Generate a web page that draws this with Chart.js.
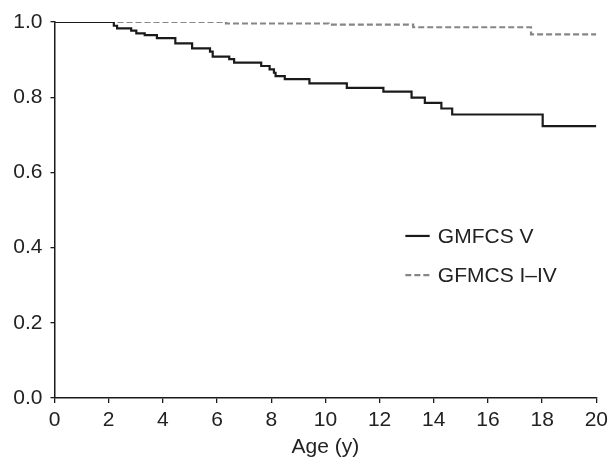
<!DOCTYPE html>
<html>
<head>
<meta charset="utf-8">
<script src="https://cdn.jsdelivr.net/npm/chart.js@4/dist/chart.umd.min.js"></script>
<style>
  html, body { margin: 0; padding: 0; background: #fff; }
  #wrap { width: 613px; height: 460px; }
</style>
</head>
<body>
<div id="wrap"><canvas id="kmChart"></canvas></div>
<script>
"use strict";

// survival curves (Kaplan-Meier steps): age of each drop and survival after it
var gmfcs5Age  = [0, 2.19, 2.31, 2.83, 3.02, 3.33, 3.78, 4.46, 5.08, 5.74, 5.84, 6.45, 6.63, 7.63, 7.94, 8.10, 8.16, 8.50, 9.41, 10.79, 12.14, 13.18, 13.67, 14.28, 14.68, 18.02, 20];
var gmfcs5Surv = [1.0, 0.990, 0.983, 0.977, 0.970, 0.965, 0.957, 0.943, 0.930, 0.921, 0.908, 0.901, 0.892, 0.883, 0.874, 0.865, 0.856, 0.848, 0.837, 0.825, 0.815, 0.799, 0.785, 0.770, 0.754, 0.723, 0.723];

var gmfcs14Age  = [0, 6.33, 10.12, 13.24, 17.59, 20];
var gmfcs14Surv = [1.0, 0.996, 0.993, 0.986, 0.967, 0.967];

var xTicks = [0, 2, 4, 6, 8, 10, 12, 14, 16, 18, 20];
var yTicks = [0.0, 0.2, 0.4, 0.6, 0.8, 1.0];

var legendLabels = ["GMFCS V", "GFMCS I\u2013IV"];

function toPoints(xs, ys) {
    return xs.map(function (x, i) { return { x: x, y: ys[i] }; });
}

var FONT = "'Liberation Sans', Arial, Helvetica, sans-serif";
var FSIZE = 21;

// legend drawn inside the plot, right of centre
var insideLegend = {
    id: "insideLegend",
    afterDraw: function (chart) {
        var ctx = chart.ctx;
        var xs = chart.scales.x, ys = chart.scales.y;
        var x0 = xs.getPixelForValue(12.95);
        var x1 = xs.getPixelForValue(13.85);
        var tx = xs.getPixelForValue(14.15);
        var rows = [0.431, 0.327];
        ctx.save();
        ctx.font = FSIZE + "px " + FONT;
        ctx.textBaseline = "middle";
        ctx.textAlign = "left";
        chart.data.datasets.forEach(function (ds, i) {
            var y = ys.getPixelForValue(rows[i]);
            ctx.beginPath();
            ctx.strokeStyle = ds.borderColor;
            ctx.lineWidth = ds.borderWidth;
            ctx.setLineDash(ds.borderDash || []);
            ctx.moveTo(x0, y);
            ctx.lineTo(x1, y);
            ctx.stroke();
            ctx.setLineDash([]);
            ctx.fillStyle = "#222";
            ctx.fillText(legendLabels[i], tx, y + 1);
        });
        ctx.restore();
    }
};

var ctx = document.getElementById("kmChart");
var myChart = new Chart(ctx, {
    type: "line",
    data: {
        datasets: [
            {
                label: legendLabels[0],
                data: toPoints(gmfcs5Age, gmfcs5Surv),
                borderColor: "#1a1a1a",
                borderWidth: 2.2,
                stepped: true,
                pointRadius: 0,
                fill: false
            },
            {
                label: legendLabels[1],
                data: toPoints(gmfcs14Age, gmfcs14Surv),
                borderColor: "#868686",
                borderWidth: 2.2,
                borderDash: [6, 3],
                stepped: true,
                pointRadius: 0,
                fill: false
            }
        ]
    },
    options: {
        responsive: true,
        maintainAspectRatio: false,
        animation: false,
        layout: {
            padding: { left: 9.5, right: 14, top: 22, bottom: 0 }
        },
        plugins: {
            legend: { display: false },
            tooltip: { enabled: false }
        },
        scales: {
            x: {
                type: "linear",
                min: 0,
                max: 20,
                afterBuildTicks: function (axis) {
                    axis.ticks = xTicks.map(function (v) { return { value: v }; });
                },
                afterFit: function (axis) { axis.height = 62; },
                grid: {
                    drawOnChartArea: false,
                    drawTicks: true,
                    tickLength: 5,
                    color: "#1a1a1a",
                    lineWidth: 1.3
                },
                border: { color: "#1a1a1a", width: 1.5 },
                ticks: {
                    color: "#222",
                    padding: 5,
                    maxRotation: 0,
                    font: { family: FONT, size: FSIZE }
                },
                title: {
                    display: true,
                    text: "Age (y)",
                    color: "#222",
                    padding: { top: 0, bottom: 0 },
                    font: { family: FONT, size: FSIZE }
                }
            },
            y: {
                min: 0,
                max: 1,
                afterBuildTicks: function (axis) {
                    axis.ticks = yTicks.map(function (v) { return { value: v }; });
                },
                afterFit: function (axis) { axis.width = 45; },
                grid: {
                    drawOnChartArea: false,
                    drawTicks: true,
                    tickLength: 4,
                    color: "#1a1a1a",
                    lineWidth: 1.3
                },
                border: { color: "#1a1a1a", width: 1.5 },
                ticks: {
                    color: "#222",
                    padding: 8,
                    font: { family: FONT, size: FSIZE },
                    callback: function (v) { return Number(v).toFixed(1); }
                }
            }
        }
    },
    plugins: [insideLegend]
});
</script>
</body>
</html>
